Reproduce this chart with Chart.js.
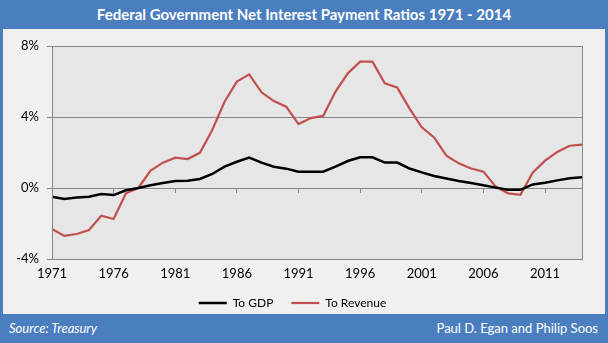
<!DOCTYPE html>
<html>
<head>
<meta charset="utf-8">
<script src="https://cdn.jsdelivr.net/npm/chart.js@4.4.0/dist/chart.umd.min.js"></script>
<style>
html, body { margin: 0; padding: 0; }
body { width: 608px; height: 343px; background: #4a7ebf; position: relative; overflow: hidden; font-family: Lato, sans-serif; }
#title { position: absolute; left: 0; top: 0; width: 608px; height: 29px; line-height: 29px; text-align: center; color: #fff; font-weight: bold; font-size: 15px; }
#panel { position: absolute; left: 3px; top: 29px; width: 602px; height: 285px; background: #f0f0f0; }
#src { position: absolute; left: 9px; top: 314px; height: 29px; line-height: 28px; color: #fff; font-style: italic; font-size: 13px; }
#auth { position: absolute; right: 10px; top: 314px; height: 29px; line-height: 28px; color: #fff; font-size: 13px; }
</style>
</head>
<body>
<div id="title">Federal Government Net Interest Payment Ratios 1971 - 2014</div>
<div id="panel"><canvas id="chart" width="602" height="285"></canvas></div>
<div id="src">Source: Treasury</div>
<div id="auth">Paul D. Egan and Philip Soos</div>
<script>
const years = [];
for (let y = 1971; y <= 2014; y++) years.push(String(y));

const toGdp = [
    -0.49, -0.62, -0.53, -0.49, -0.34, -0.40, -0.13, 0.00, 0.15, 0.28,
    0.39, 0.41, 0.51, 0.79, 1.20, 1.48, 1.71, 1.43, 1.20, 1.09,
    0.92, 0.92, 0.92, 1.20, 1.52, 1.73, 1.73, 1.43, 1.43, 1.10,
    0.88, 0.68, 0.53, 0.39, 0.28, 0.15, 0.02, -0.10, -0.10, 0.20,
    0.30, 0.43, 0.55, 0.60
];

const toRevenue = [
    -2.31, -2.70, -2.59, -2.37, -1.56, -1.75, -0.30, 0.00, 0.98, 1.43,
    1.71, 1.63, 1.98, 3.27, 4.86, 5.99, 6.40, 5.39, 4.90, 4.58,
    3.60, 3.94, 4.06, 5.43, 6.46, 7.12, 7.12, 5.90, 5.67, 4.49,
    3.42, 2.85, 1.82, 1.39, 1.10, 0.92, 0.08, -0.30, -0.38, 0.86,
    1.54, 2.03, 2.38, 2.44
];

const yMin = -4;
const yMax = 8;
const yStep = 4;

const gridGray = '#878787';
const tickFont = { family: 'Lato', size: 13 };

// show a year every 5 categories, hide the rest (and their tick marks)
function everyFifth(value, index) {
    return index % 5 === 0 ? years[index] : null;
}

const plotBox = {
    id: 'plotBox',
    afterInit(chart) {
        // legend keeps its item spacing but takes less height
        const lg = chart.legend;
        const fit = lg.fit;
        lg.fit = function () {
            fit.call(this);
            this.height = 35;
        };
    },
    beforeDraw(chart) {
        const a = chart.chartArea;
        const c = chart.ctx;
        c.save();
        c.fillStyle = '#e6e6e6';
        c.fillRect(a.left, a.top, a.right - a.left, a.bottom - a.top);
        c.restore();
    },
    afterDatasetsDraw(chart) {
        const a = chart.chartArea;
        const c = chart.ctx;
        c.save();
        c.strokeStyle = gridGray;
        c.lineWidth = 1;
        c.strokeRect(Math.round(a.left) + 0.5, Math.round(a.top) + 0.5,
            Math.round(a.right - a.left), Math.round(a.bottom - a.top));
        c.restore();
    }
};

const ctx = document.getElementById('chart').getContext('2d');
const chart = new Chart(ctx, {
    type: 'line',
    data: {
        labels: years,
        datasets: [{
            label: 'To GDP',
            data: toGdp,
            borderColor: '#000000',
            backgroundColor: '#000000',
            borderWidth: 2.5,
            pointRadius: 0,
            tension: 0
        }, {
            label: 'To Revenue',
            data: toRevenue,
            borderColor: '#c0504d',
            backgroundColor: '#c0504d',
            borderWidth: 2.2,
            pointRadius: 0,
            tension: 0
        }]
    },
    options: {
        responsive: false,
        animation: false,
        layout: { padding: { top: 17, right: 23, left: 0, bottom: 0 } },
        plugins: {
            legend: {
                position: 'bottom',
                labels: {
                    usePointStyle: true,
                    pointStyle: 'line',
                    pointStyleWidth: 28,
                    boxHeight: 12,
                    color: '#000',
                    padding: 18,
                    font: { family: 'Lato', size: 12 }
                }
            },
            tooltip: { enabled: false }
        },
        scales: {
            x: {
                type: 'category',
                offset: false,
                grid: { display: false, drawTicks: false },
                border: { display: false },
                ticks: {
                    autoSkip: false,
                    maxRotation: 0,
                    padding: 7,
                    color: '#000',
                    font: tickFont,
                    callback: everyFifth
                },
                afterFit(scale) { scale.height = 20; }
            },
            zero: {
                axis: 'x',
                type: 'category',
                position: { y: 0 },
                offset: false,
                grid: { drawOnChartArea: false, tickLength: 4, color: gridGray },
                border: { color: gridGray },
                ticks: { display: false, autoSkip: false, callback: everyFifth }
            },
            y: {
                min: yMin,
                max: yMax,
                ticks: {
                    stepSize: yStep,
                    padding: 8,
                    color: '#000',
                    font: tickFont,
                    callback: v => v + '%'
                },
                grid: { color: gridGray, tickLength: 5 },
                border: { color: gridGray },
                afterFit(scale) { scale.width = 49; }
            }
        }
    },
    plugins: [plotBox]
});
</script>
</body>
</html>
